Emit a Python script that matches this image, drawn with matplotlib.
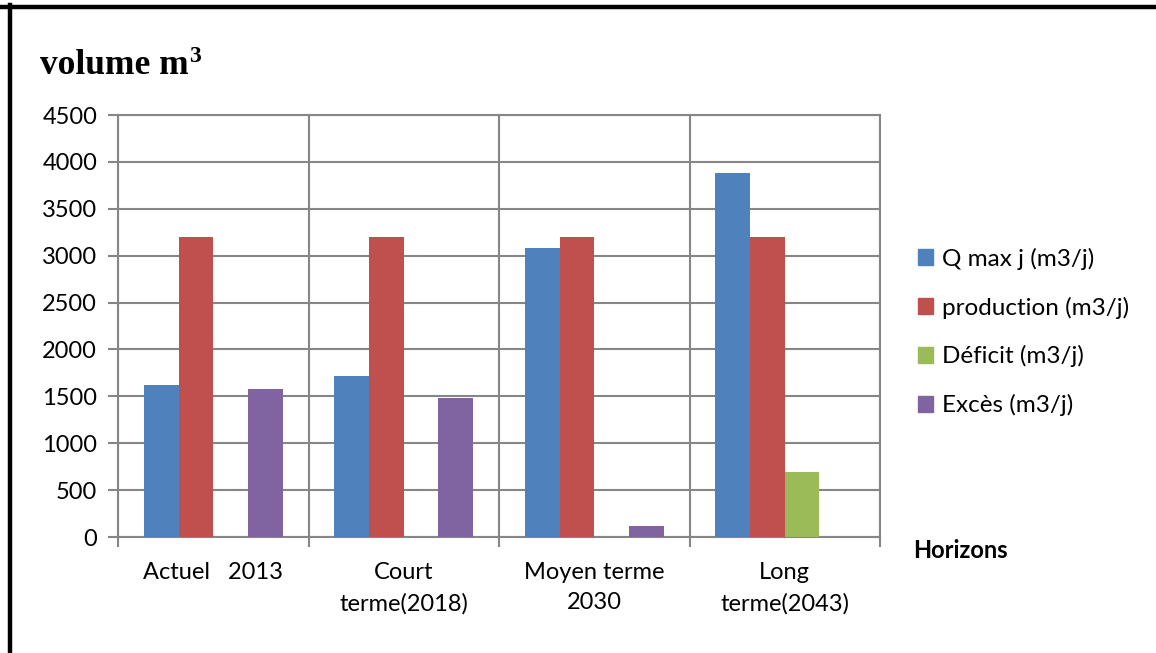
import matplotlib
matplotlib.use("Agg")
import matplotlib.pyplot as plt
from matplotlib.patches import Rectangle
from matplotlib.lines import Line2D
import numpy as np

categories = ["Actuel   2013", "Court\nterme(2018)", "Moyen terme\n2030", "Long\nterme(2043)"]
series_names = ["Q max j (m3/j)", "production (m3/j)", "Déficit (m3/j)", "Excès (m3/j)"]
q_max = [1620, 1720, 3080, 3880]
production = [3200, 3200, 3200, 3200]
deficit = [0, 0, 0, 690]
exces = [1580, 1480, 120, 0]
yticks = [0, 500, 1000, 1500, 2000, 2500, 3000, 3500, 4000, 4500]
colors = ["#4F81BD", "#C0504D", "#9BBB59", "#8064A2"]

plt.rcParams['font.family'] = ['Lato', 'DejaVu Sans']
W, H = 1156, 653
fig = plt.figure(figsize=(W / 100, H / 100), dpi=100)
ax = fig.add_axes([118 / W, 1 - 537 / H, (880 - 118) / W, (537 - 115) / H])

grid_c = "#868686"
x = np.arange(len(categories))
bw = 1 / 5.5
values = [q_max, production, deficit, exces]
for i, (vals, c) in enumerate(zip(values, colors)):
    ax.bar(x + (i - 1.5) * bw, vals, width=bw, color=c, edgecolor="none", zorder=3)

ax.set_xlim(-0.5, len(categories) - 0.5)
ax.set_ylim(0, 4500)
ax.set_yticks(yticks)
ax.set_yticklabels([str(v) for v in yticks], fontsize=17)
ax.set_xticks(x)
ax.set_xticklabels(categories, fontsize=17, linespacing=1.55)
ax.set_xticks(np.arange(-0.5, len(categories)), minor=True)
ax.tick_params(axis='x', which='major', length=0, pad=18)
ax.tick_params(axis='x', which='minor', length=7, width=1.5, color=grid_c, direction='out')
ax.tick_params(axis='y', which='major', length=7, width=1.5, color=grid_c, direction='out', pad=8)
ax.yaxis.grid(True, color=grid_c, linewidth=1.5, zorder=0)
ax.xaxis.grid(True, which='minor', color=grid_c, linewidth=1.5, zorder=0)
ax.set_axisbelow(True)
for s in ax.spines.values():
    s.set_color(grid_c)
    s.set_linewidth(1.5)

handles = [Rectangle((0, 0), 1, 1, color=c) for c in colors]
fig.legend(handles, series_names, loc='upper left', bbox_to_anchor=(908 / W, 1 - 238 / H),
           frameon=False, fontsize=17.5, handlelength=0.63, handleheight=0.63,
           handletextpad=0.35, labelspacing=1.1, borderaxespad=0)

fig.text(913 / W, 1 - 551 / H, "Horizons", fontsize=17, fontweight='bold', va='center', ha='left')

fig.text(40 / W, 1 - 74 / H, "volume m", fontsize=25.5, fontweight='bold',
         family=['Liberation Serif'], va='baseline', ha='left')
fig.text(189 / W, 1 - 46 / H, "3", fontsize=17, fontweight='bold',
         family=['Liberation Serif'], va='top', ha='left')

fig.add_artist(Line2D([0, 1], [1 - 7 / H, 1 - 7 / H], color='black', linewidth=3.2, transform=fig.transFigure))
fig.add_artist(Line2D([10 / W, 10 / W], [0, 1 - 5 / H], color='black', linewidth=3.2, transform=fig.transFigure))

fig.savefig("out.png", dpi=100)
